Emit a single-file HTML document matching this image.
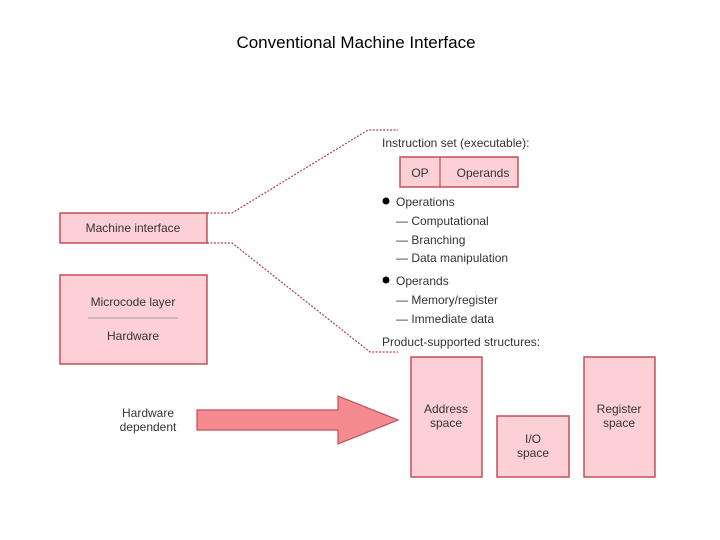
<!DOCTYPE html>
<html><head><style>body{margin:0;background:#fff}svg{display:block}</style></head><body>
<svg width="720" height="540" xmlns="http://www.w3.org/2000/svg" font-family="Liberation Sans, sans-serif">
<text x="356" y="48" font-size="17" text-anchor="middle" fill="#000">Conventional Machine Interface</text>
<g fill="#fdd0d5" stroke="#c0505a" stroke-width="1.5">
<rect x="60" y="213" width="147" height="30"/>
<rect x="60" y="275" width="147" height="89"/>
<rect x="400" y="157" width="118" height="30"/>
<rect x="411" y="357" width="71" height="120"/>
<rect x="497" y="416" width="72" height="61"/>
<rect x="584" y="357" width="71" height="120"/>
</g>
<line x1="440" y1="157" x2="440" y2="187" stroke="#c0505a" stroke-width="1.2"/>
<line x1="88" y1="318" x2="178" y2="318" stroke="#888" stroke-width="0.8"/>
<g fill="none" stroke="#b04050" stroke-width="1.2" stroke-dasharray="2,1.5">
<polyline points="207,213 232,213 368,130 398,130"/>
<polyline points="207,243 232,243 370,352 398,352"/>
</g>
<polygon points="197,410 338,410 338,396 398,420 338,444 338,430 197,430" fill="#f58a90" stroke="#c0505a" stroke-width="1.2"/>
<g font-size="12" fill="#333">
<text x="133" y="232" text-anchor="middle">Machine interface</text>
<text x="133" y="306" text-anchor="middle">Microcode layer</text>
<text x="133" y="340" text-anchor="middle">Hardware</text>
<text x="148" y="417" text-anchor="middle">Hardware</text>
<text x="148" y="431" text-anchor="middle">dependent</text>
<text x="382" y="147">Instruction set (executable):</text>
<text x="420" y="177" text-anchor="middle">OP</text>
<text x="483" y="177" text-anchor="middle">Operands</text>
<circle cx="386" cy="201" r="3.5" fill="#000"/>
<text x="396" y="206">Operations</text>
<text x="396" y="225">— Computational</text>
<text x="396" y="244">— Branching</text>
<text x="396" y="262">— Data manipulation</text>
<circle cx="386" cy="280" r="3.5" fill="#000"/>
<text x="396" y="285">Operands</text>
<text x="396" y="304">— Memory/register</text>
<text x="396" y="323">— Immediate data</text>
<text x="382" y="346">Product-supported structures:</text>
<text x="446" y="413" text-anchor="middle">Address</text>
<text x="446" y="427" text-anchor="middle">space</text>
<text x="533" y="443" text-anchor="middle">I/O</text>
<text x="533" y="457" text-anchor="middle">space</text>
<text x="619" y="413" text-anchor="middle">Register</text>
<text x="619" y="427" text-anchor="middle">space</text>
</g>
</svg>
</body></html>
